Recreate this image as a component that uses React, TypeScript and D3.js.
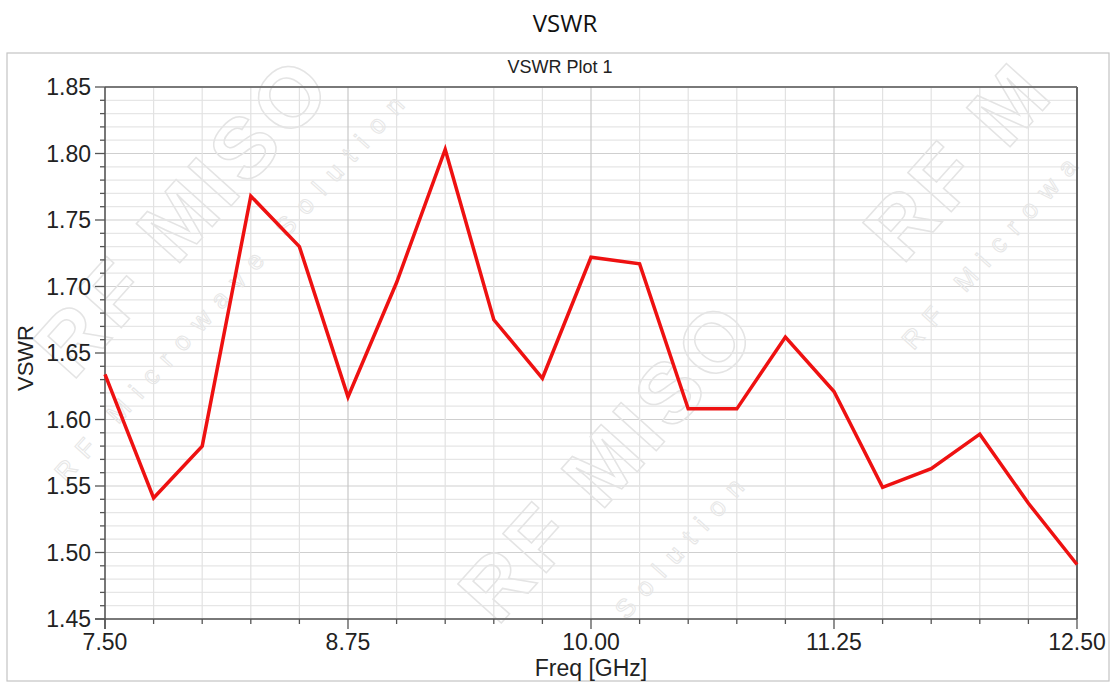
import React from "react";
import * as d3 from "d3";

const freqs = [7.5, 7.75, 8.0, 8.25, 8.5, 8.75, 9.0, 9.25, 9.5, 9.75, 10.0, 10.25, 10.5, 10.75, 11.0, 11.25, 11.5, 11.75, 12.0, 12.25, 12.5];
const vswr = [1.634, 1.541, 1.58, 1.768, 1.73, 1.617, 1.703, 1.803, 1.675, 1.631, 1.722, 1.717, 1.608, 1.608, 1.662, 1.621, 1.549, 1.563, 1.589, 1.537, 1.491];
const xTickLabels = ["7.50", "8.75", "10.00", "11.25", "12.50"];
const yTickLabels = ["1.45", "1.50", "1.55", "1.60", "1.65", "1.70", "1.75", "1.80", "1.85"];

const W = 1111;
const H = 682;
const L = 105, R = 1077, T = 87, B = 619;
const FONT = "'Liberation Sans', Arial, sans-serif";

export default function App() {
  const x = d3.scaleLinear().domain([7.5, 12.5]).range([L, R]);
  const y = d3.scaleLinear().domain([1.45, 1.85]).range([B, T]);
  const xMinor = d3.range(0, 21).map((i) => 7.5 + i * 0.25);
  const yMinor = d3.range(0, 41).map((i) => +(1.45 + i * 0.01).toFixed(2));
  const line = d3
    .line<number>()
    .x((_, i) => x(freqs[i]))
    .y((d) => y(d));
  const majorX = xTickLabels.map(Number);
  const majorY = yTickLabels.map(Number);
  const isMajorX = (v: number) => majorX.some((m) => Math.abs(m - v) < 1e-6);
  const isMajorY = (v: number) => majorY.some((m) => Math.abs(m - v) < 1e-6);

  const wm = { fill: "none", stroke: "#e4e4e4", strokeWidth: 1.5, fontFamily: FONT, fontWeight: 700 } as const;
  const wmSmall = { fill: "none", stroke: "#e6e6e6", strokeWidth: 1, fontFamily: FONT } as const;

  return (
    <svg width={W} height={H} style={{ position: "absolute", left: 0, top: 0, background: "#fff" }}>
      <rect x={0} y={0} width={W} height={H} fill="#fff" />
      <rect x={7} y={53} width={1102} height={628} fill="#fff" stroke="#c4c4c4" strokeWidth={1.2} />
      <text x={565} y={32} textAnchor="middle" fontFamily="'Open Sans', 'Noto Sans', sans-serif" fontSize={24} fill="#111">
        VSWR
      </text>
      <text x={560} y={73} textAnchor="middle" fontFamily={FONT} fontSize={18} fill="#222">
        VSWR Plot 1
      </text>
      {yMinor.map((v) => (
        <line key={"hy" + v} x1={L} x2={R} y1={y(v)} y2={y(v)} stroke={isMajorY(v) ? "#cfcfcf" : "#e6e6e6"} strokeWidth={1.2} />
      ))}
      {xMinor.map((v) => (
        <line key={"vx" + v} x1={x(v)} x2={x(v)} y1={T} y2={B} stroke={isMajorX(v) ? "#c8c8c8" : "#e2e2e2"} strokeWidth={1.2} />
      ))}
      <g>
        <text transform="translate(205,235) rotate(-48)" textAnchor="middle" fontSize={85} letterSpacing={6} {...wm}>RF MISO</text>
        <text transform="translate(240,290) rotate(-48)" textAnchor="middle" fontSize={26} letterSpacing={12} {...wmSmall}>RF Microwave Solution</text>
        <text transform="translate(630,480) rotate(-48)" textAnchor="middle" fontSize={85} letterSpacing={6} {...wm}>RF MISO</text>
        <text transform="translate(690,550) rotate(-48)" textAnchor="middle" fontSize={26} letterSpacing={12} {...wmSmall}>Solution</text>
        <text transform="translate(980,180) rotate(-48)" textAnchor="middle" fontSize={85} letterSpacing={6} {...wm}>RF M</text>
        <text transform="translate(1000,255) rotate(-48)" textAnchor="middle" fontSize={26} letterSpacing={12} {...wmSmall}>RF Microwa</text>
      </g>
      <line x1={L} x2={R} y1={T} y2={T} stroke="#555" strokeWidth={1.5} />
      <line x1={R} x2={R} y1={T} y2={B} stroke="#666" strokeWidth={2} />
      <line x1={L} x2={L} y1={T} y2={B + 10} stroke="#555" strokeWidth={1.5} />
      <line x1={L - 10} x2={R} y1={B} y2={B} stroke="#555" strokeWidth={1.5} />
      {yMinor.map((v) => (
        <line key={"ty" + v} x1={isMajorY(v) ? L - 10 : L - 5} x2={L} y1={y(v)} y2={y(v)} stroke="#555" strokeWidth={1.3} />
      ))}
      {xMinor.map((v) => (
        <line key={"tx" + v} x1={x(v)} x2={x(v)} y1={B} y2={isMajorX(v) ? B + 10 : B + 5} stroke="#555" strokeWidth={1.3} />
      ))}
      {yTickLabels.map((t) => (
        <text key={"ly" + t} x={91} y={y(+t) + 8} textAnchor="end" fontFamily={FONT} fontSize={23} fill="#222">
          {t}
        </text>
      ))}
      {xTickLabels.map((t) => (
        <text key={"lx" + t} x={x(+t)} y={650} textAnchor="middle" fontFamily={FONT} fontSize={23} fill="#222">
          {t}
        </text>
      ))}
      <text x={591} y={676} textAnchor="middle" fontFamily={FONT} fontSize={23} fill="#222">
        Freq [GHz]
      </text>
      <text transform="translate(33,358) rotate(-90)" textAnchor="middle" fontFamily={FONT} fontSize={22} fill="#222">
        VSWR
      </text>
      <path d={line(vswr) || ""} fill="none" stroke="#ee1111" strokeWidth={3.5} strokeLinejoin="miter" />
    </svg>
  );
}
